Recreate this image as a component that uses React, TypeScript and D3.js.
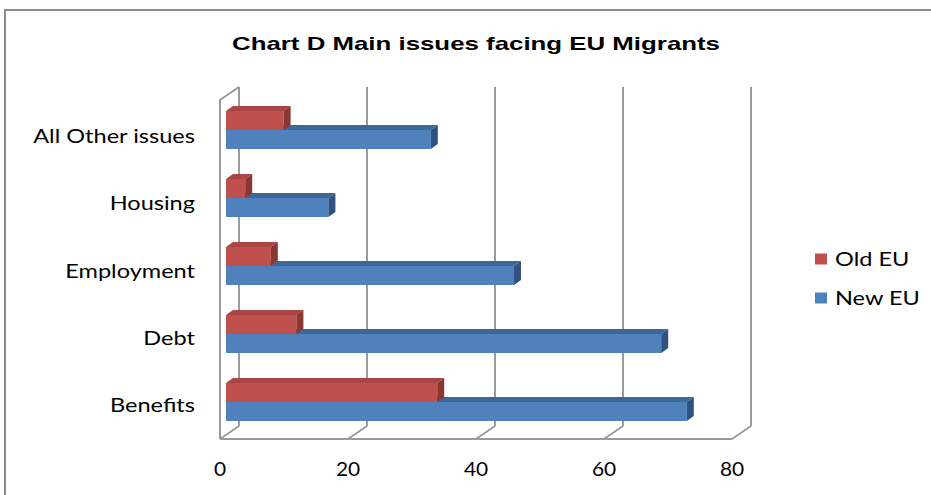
import React from "react";
import * as d3 from "d3";

// Categories listed top to bottom as they appear on the chart
const categories = ["All Other issues", "Housing", "Employment", "Debt", "Benefits"];
const oldEU = [9, 3, 7, 11, 33];
const newEU = [32, 16, 45, 68, 72];
const xTicks = [0, 20, 40, 60, 80];
const seriesNames = ["Old EU", "New EU"];
const title = "Chart D Main issues facing EU Migrants";

const W = 931;
const H = 495;

// 3D wall geometry: back wall is offset up-right from the front edge
const DX = 19;
const DY = -13;
// bars sit a little way into the depth
const BDX = 7;
const BDY = -5;
const BAR_H = 19;

const FONT = "Lato, 'Open Sans', sans-serif";
const STRETCH = 1.24;

const RED = { front: "#C0504D", top: "#A94542", side: "#8A3633" };
const BLUE = { front: "#4F81BD", top: "#3D6797", side: "#2F5281" };

export default function App() {
  const xFront = d3.scaleLinear().domain([0, 80]).range([220, 732]);
  const xBack = (v: number) => xFront(v) + DX;
  const xBar = (v: number) => xFront(v) + 6;
  const floorY = 439;
  const topY = 100;
  const yCat = d3.scalePoint<string>().domain(categories).range([130, 402]);
  // labels sit along the mid-depth of the category slots
  const yLabel = d3.scalePoint<string>().domain(categories).range([136, 405]);

  const bar = (x0: number, x1: number, y: number, c: typeof RED, key: string) => {
    const top = `M${x0},${y} L${x0 + BDX},${y + BDY} L${x1 + BDX},${y + BDY} L${x1},${y} Z`;
    const side = `M${x1},${y} L${x1 + BDX},${y + BDY} L${x1 + BDX},${y + BAR_H + BDY} L${x1},${y + BAR_H} Z`;
    return (
      <g key={key}>
        <rect x={x0} y={y} width={x1 - x0} height={BAR_H} fill={c.front} />
        <path d={top} fill={c.top} />
        <path d={side} fill={c.side} />
      </g>
    );
  };

  const grid = "#9a9a9a";

  return (
    <svg width={W} height={H} style={{ position: "absolute", left: 0, top: 0 }}>
      <rect x={0} y={0} width={W} height={H} fill="#fff" />
      {/* outer chart frame */}
      <path d={`M5,${H} L5,10 L${W},10`} fill="none" stroke="#8c8c8c" strokeWidth={2} />

      <text
        x={476}
        y={50}
        textAnchor="middle"
        fontFamily="'Liberation Sans', Arial, sans-serif"
        fontWeight="bold"
        fontSize={19}
        textLength={488}
        lengthAdjust="spacingAndGlyphs"
        fill="#000"
      >
        {title}
      </text>

      {/* back wall gridlines */}
      {xTicks.map((t) => (
        <line
          key={"g" + t}
          x1={xBack(t)}
          x2={xBack(t)}
          y1={topY + DY}
          y2={floorY + DY}
          stroke={grid}
          strokeWidth={2}
        />
      ))}
      {/* floor depth ticks */}
      {xTicks.map((t) => (
        <line
          key={"f" + t}
          x1={xFront(t)}
          y1={floorY}
          x2={xBack(t)}
          y2={floorY + DY}
          stroke={grid}
          strokeWidth={2}
        />
      ))}
      {/* front floor edge */}
      <line x1={xFront(0)} x2={xFront(80)} y1={floorY} y2={floorY} stroke={grid} strokeWidth={2} />
      {/* left wall front edge */}
      <path
        d={`M${xFront(0)},${floorY} L${xFront(0)},${topY} L${xBack(0)},${topY + DY}`}
        fill="none"
        stroke={grid}
        strokeWidth={2}
      />

      {/* bars */}
      {categories.map((c, i) => {
        const yc = yCat(c)!;
        return (
          <g key={c}>
            {bar(xBar(0), xBar(newEU[i]), yc, BLUE, "n")}
            {bar(xBar(0), xBar(oldEU[i]), yc - BAR_H, RED, "o")}
          </g>
        );
      })}

      {/* category labels */}
      {categories.map((c) => (
        <g key={"l" + c} transform={`translate(195,${yLabel(c)!}) scale(${STRETCH},1)`}>
          <text textAnchor="end" dominantBaseline="central" fontFamily={FONT} fontSize={19} fill="#000">
            {c}
          </text>
        </g>
      ))}

      {/* value axis labels */}
      {xTicks.map((t) => (
        <g key={"t" + t} transform={`translate(${xFront(t)},468) scale(1.1,1)`}>
          <text textAnchor="middle" dominantBaseline="central" fontFamily={FONT} fontSize={19} fill="#000">
            {t}
          </text>
        </g>
      ))}

      {/* legend */}
      {seriesNames.map((s, i) => {
        const y = 259 + i * 39;
        const col = i === 0 ? RED.front : BLUE.front;
        return (
          <g key={s}>
            <rect x={815} y={y - 5.5} width={12} height={11} fill={col} />
            <g transform={`translate(835,${y}) scale(${STRETCH},1)`}>
              <text dominantBaseline="central" fontFamily={FONT} fontSize={19} fill="#000">
                {s}
              </text>
            </g>
          </g>
        );
      })}
    </svg>
  );
}
